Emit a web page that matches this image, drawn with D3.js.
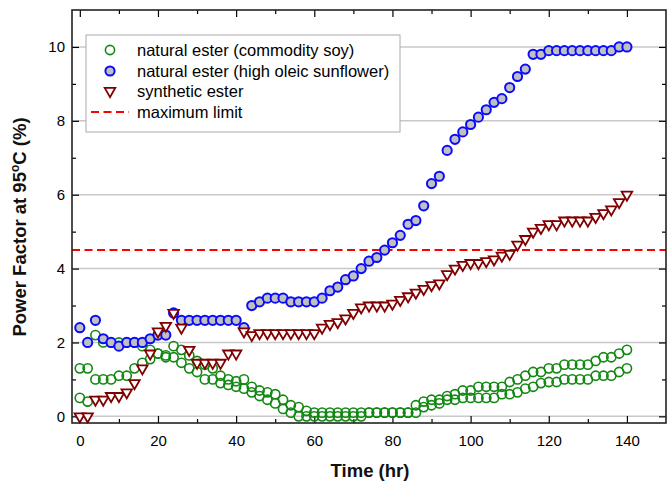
<!DOCTYPE html>
<html>
<head>
<meta charset="utf-8">
<script src="https://cdn.jsdelivr.net/npm/d3@7"></script>
<style>
  html, body { margin: 0; padding: 0; background: #fff; }
  svg { display: block; font-family: "Liberation Sans", Arial, sans-serif; }
</style>
</head>
<body>
<svg id="chart" width="668" height="487"></svg>
<script>
// ---------- data (time in hours, power factor in %) ----------
const times = d3.range(0, 141, 2);

const soyA = [1.3,1.3,2.2,2.0,2.0,2.0,2.0,2.0,1.9,1.8,
              1.7,1.65,1.9,1.8,1.65,1.5,1.4,1.3,1.1,1.0,
              0.95,1.0,0.8,0.7,0.65,0.6,0.45,0.3,0.25,0.15,
              0.1,0.1,0.1,0.1,0.1,0.1,0.1,0.1,0.1,0.1,
              0.1,0.1,0.1,0.3,0.4,0.45,0.45,0.55,0.6,0.7,
              0.7,0.8,0.8,0.8,0.8,0.93,1.0,1.1,1.2,1.2,
              1.3,1.3,1.4,1.4,1.4,1.4,1.5,1.6,1.6,1.7,
              1.8];

const soyB = [0.5,0.4,1.0,1.0,1.0,1.1,1.1,1.3,1.45,1.55,
              1.7,1.6,1.6,1.45,1.3,1.2,1.0,1.0,0.9,0.85,
              0.8,0.75,0.65,0.55,0.45,0.35,0.2,0.1,0.0,0.0,
              0.0,0.0,0.0,0.0,0.0,0.0,0.0,0.1,0.1,0.1,
              0.1,0.1,0.1,0.1,0.25,0.3,0.35,0.45,0.45,0.5,
              0.5,0.5,0.5,0.5,0.6,0.6,0.65,0.75,0.8,0.9,
              0.93,0.93,1.0,1.0,1.0,1.0,1.1,1.1,1.1,1.2,
              1.3];

const hos = [2.4,2.0,2.6,2.1,2.0,1.9,2.0,2.0,2.0,2.1,
             2.2,2.2,2.8,2.6,2.6,2.6,2.6,2.6,2.6,2.6,
             2.6,2.4,3.0,3.1,3.2,3.2,3.2,3.1,3.1,3.1,
             3.1,3.2,3.4,3.5,3.7,3.8,4.0,4.2,4.3,4.5,
             4.7,4.9,5.2,5.3,5.7,6.3,6.5,7.2,7.5,7.7,
             7.9,8.1,8.3,8.5,8.6,8.9,9.2,9.4,9.8,9.8,
             9.9,9.9,9.9,9.9,9.9,9.9,9.9,9.9,9.9,10.0,
             10.0];

const synthetic = [0,0,0.45,0.45,0.55,0.55,0.65,0.9,1.3,1.7,
                   2.3,2.45,2.8,2.4,1.8,1.45,1.45,1.45,1.45,1.7,
                   1.7,2.3,2.2,2.25,2.25,2.25,2.25,2.25,2.25,2.25,
                   2.25,2.4,2.5,2.55,2.65,2.8,2.95,3.0,3.0,3.0,
                   3.05,3.15,3.25,3.35,3.45,3.55,3.6,3.85,4.0,4.1,
                   4.15,4.15,4.2,4.25,4.35,4.4,4.65,4.8,5.0,5.1,
                   5.2,5.2,5.3,5.3,5.3,5.3,5.4,5.5,5.6,5.8,
                   6.0];

const maxLimit = 4.5;

const xTicks = [0, 20, 40, 60, 80, 100, 120, 140];
const xMinorTicks = [10, 30, 50, 70, 90, 110, 130];
const yTicks = [0, 2, 4, 6, 8, 10];
const yMinorTicks = [1, 3, 5, 7, 9];

const legendLabels = ["natural ester (commodity soy)", "natural ester (high oleic sunflower)", "synthetic ester", "maximum limit"];

// ---------- layout ----------
const svg = d3.select("#chart");
const L = 72, R = 666, T = 10, B = 423;

const x = d3.scaleLinear().domain([-2, 150]).range([L, R]);
const y = d3.scaleLinear().domain([-0.18, 11]).range([B, T]);

const green = "#118811", blue = "#0a0aff", dred = "#800000", red = "#ff0000";

// gridlines
svg.append("g").selectAll("line").data(yTicks).join("line")
  .attr("x1", L).attr("x2", R)
  .attr("y1", d => y(d)).attr("y2", d => y(d))
  .attr("stroke", "#c8c8c8").attr("stroke-width", 1.5);

// max limit line
svg.append("line")
  .attr("x1", L).attr("x2", R)
  .attr("y1", y(maxLimit)).attr("y2", y(maxLimit))
  .attr("stroke", red).attr("stroke-width", 2)
  .attr("stroke-dasharray", "8,4.5");

// axes (ticks point inward)
function styleAxis(g) {
  g.select(".domain").remove();
  g.selectAll("line").attr("stroke", "#000").attr("stroke-width", 1.2);
  g.selectAll("text").attr("font-size", 15).attr("fill", "#000")
    .attr("font-family", "Liberation Sans, Arial, sans-serif");
}
svg.append("g").attr("transform", `translate(0,${B})`)
  .call(d3.axisBottom(x).tickValues(xTicks).tickSize(-7).tickPadding(12).tickFormat(d3.format("d")))
  .call(styleAxis);
svg.append("g").attr("transform", `translate(0,${B})`)
  .call(d3.axisBottom(x).tickValues(xMinorTicks).tickSize(-4).tickFormat(""))
  .call(styleAxis);
svg.append("g").attr("transform", `translate(0,${T})`)
  .call(d3.axisTop(x).tickValues(xTicks).tickSize(-7).tickFormat(""))
  .call(styleAxis);
svg.append("g").attr("transform", `translate(0,${T})`)
  .call(d3.axisTop(x).tickValues(xMinorTicks).tickSize(-4).tickFormat(""))
  .call(styleAxis);
svg.append("g").attr("transform", `translate(${L},0)`)
  .call(d3.axisLeft(y).tickValues(yTicks).tickSize(-7).tickPadding(7).tickFormat(d3.format("d")))
  .call(styleAxis);
svg.append("g").attr("transform", `translate(${L},0)`)
  .call(d3.axisLeft(y).tickValues(yMinorTicks).tickSize(-4).tickFormat(""))
  .call(styleAxis);
svg.append("g").attr("transform", `translate(${R},0)`)
  .call(d3.axisRight(y).tickValues(yTicks).tickSize(-7).tickFormat(""))
  .call(styleAxis);
svg.append("g").attr("transform", `translate(${R},0)`)
  .call(d3.axisRight(y).tickValues(yMinorTicks).tickSize(-4).tickFormat(""))
  .call(styleAxis);

// frame
svg.append("rect").attr("x", L).attr("y", T).attr("width", R - L).attr("height", B - T)
  .attr("fill", "none").attr("stroke", "#222").attr("stroke-width", 1.6);

// markers
const tri = d3.symbol().type(d3.symbolTriangle).size(48);

function circles(data, stroke, fill, sw) {
  svg.append("g").selectAll("circle").data(data.map((v, i) => [times[i], v])).join("circle")
    .attr("cx", d => x(d[0])).attr("cy", d => y(d[1])).attr("r", 4.6)
    .attr("fill", fill).attr("stroke", stroke).attr("stroke-width", sw);
}
circles(soyA, green, "none", 1.6);
circles(soyB, green, "none", 1.6);
circles(hos, blue, "#c0c0c0", 2);

svg.append("g").selectAll("path").data(synthetic.map((v, i) => [times[i], v])).join("path")
  .attr("d", tri)
  .attr("transform", d => `translate(${x(d[0])},${y(d[1])}) rotate(180)`)
  .attr("fill", "#fff").attr("stroke", dred).attr("stroke-width", 1.8);

// legend
const lg = svg.append("g");
lg.append("rect").attr("x", 86).attr("y", 35).attr("width", 314).attr("height", 97)
  .attr("fill", "#fff").attr("stroke", "#aaa").attr("stroke-width", 1);
const rows = [50, 71, 91, 112];
lg.append("circle").attr("cx", 110).attr("cy", rows[0]).attr("r", 4.6)
  .attr("fill", "none").attr("stroke", green).attr("stroke-width", 1.6);
lg.append("circle").attr("cx", 110).attr("cy", rows[1]).attr("r", 4.6)
  .attr("fill", "#c0c0c0").attr("stroke", blue).attr("stroke-width", 2);
lg.append("path").attr("d", tri).attr("transform", `translate(110,${rows[2]}) rotate(180)`)
  .attr("fill", "#fff").attr("stroke", dred).attr("stroke-width", 1.8);
lg.append("line").attr("x1", 91).attr("x2", 129).attr("y1", rows[3]).attr("y2", rows[3])
  .attr("stroke", red).attr("stroke-width", 2).attr("stroke-dasharray", "8,4.5");
lg.selectAll("text").data(legendLabels).join("text")
  .attr("x", 137).attr("y", (d, i) => rows[i] + 6)
  .attr("font-size", 16.5).attr("fill", "#000").text(d => d);

// axis titles
svg.append("text").attr("x", 370).attr("y", 477).attr("text-anchor", "middle")
  .attr("font-size", 18.5).attr("font-weight", "bold").attr("fill", "#111")
  .text("Time (hr)");
const yt = svg.append("text").attr("transform", "translate(26,227) rotate(-90)")
  .attr("text-anchor", "middle").attr("font-size", 18.5).attr("font-weight", "bold").attr("fill", "#111");
yt.append("tspan").text("Power Factor at 95");
yt.append("tspan").attr("font-size", 12).attr("dy", -7).text("o");
yt.append("tspan").attr("dy", 7).text("C (%)");
</script>
</body>
</html>
